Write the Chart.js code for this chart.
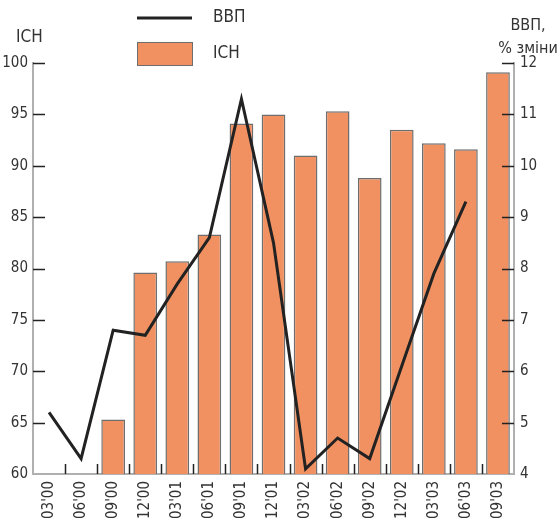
<!DOCTYPE html>
<html>
<head>
<meta charset="utf-8">
<script src="https://cdn.jsdelivr.net/npm/chart.js@4"></script>
<style>
  html, body { margin: 0; padding: 0; background: #fff; }
  #wrap { width: 560px; height: 520px; position: relative; }
</style>
</head>
<body>
<div id="wrap"><canvas id="chart" width="560" height="520"></canvas></div>
<script>
const quarters = ["03'00", "06'00", "09'00", "12'00", "03'01", "06'01", "09'01", "12'01",
                  "03'02", "06'02", "09'02", "12'02", "03'03", "06'03", "09'03"];
// ІСН, left axis
const ichValues = [null, null, 65.3, 79.6, 80.7, 83.3, 94.1, 95.0, 91.0, 95.3, 88.8, 93.5, 92.2, 91.6, 99.1];
// ВВП, % зміни, right axis
const gdpValues = [5.2, 4.3, 6.8, 6.7, 7.7, 8.6, 11.3, 8.5, 4.1, 4.7, 4.3, 6.1, 7.9, 9.3, null];
const leftTicks = [60, 65, 70, 75, 80, 85, 90, 95, 100];
const rightTicks = [4, 5, 6, 7, 8, 9, 10, 11, 12];

const barColor = "#f19162";
const barBorder = "#6e6e6e";
const axisGray = "#b0b0b0";
const textColor = "#333333";
const fontFamily = '"DejaVu Sans Condensed", "DejaVu Sans", sans-serif';

// short tick marks drawn inside the plot, legend and axis titles
const decorPlugin = {
  id: "decor",
  afterDraw(chart) {
    const ctx = chart.ctx;
    const area = chart.chartArea;
    const x = chart.scales.x, yL = chart.scales.y, yR = chart.scales.y1;
    ctx.save();
    ctx.strokeStyle = "#222";
    ctx.lineWidth = 1.5;
    ctx.beginPath();
    leftTicks.forEach(v => {
      const py = Math.round(yL.getPixelForValue(v)) + 0.5;
      if (v === 60) return;
      ctx.moveTo(area.left, py); ctx.lineTo(area.left + 12, py);
    });
    rightTicks.forEach(v => {
      const py = Math.round(yR.getPixelForValue(v)) + 0.5;
      if (v === 4) return;
      ctx.moveTo(area.right - 12, py); ctx.lineTo(area.right, py);
    });
    for (let i = 0; i < quarters.length - 1; i++) {
      const px = Math.round((x.getPixelForValue(i) + x.getPixelForValue(i + 1)) / 2) + 0.5;
      ctx.moveTo(px, area.bottom); ctx.lineTo(px, area.bottom - 10);
    }
    ctx.stroke();

    // legend
    ctx.fillStyle = textColor;
    ctx.font = "17px " + fontFamily;
    ctx.textBaseline = "middle";
    ctx.textAlign = "left";
    ctx.strokeStyle = "#222";
    ctx.lineWidth = 3;
    ctx.beginPath();
    ctx.moveTo(137, 18); ctx.lineTo(192, 18);
    ctx.stroke();
    ctx.fillText("ВВП", 213, 18);
    ctx.fillStyle = barColor;
    ctx.fillRect(137, 42, 55, 23);
    ctx.strokeStyle = barBorder;
    ctx.lineWidth = 1;
    ctx.strokeRect(137.5, 42.5, 55, 23);
    ctx.fillStyle = textColor;
    ctx.fillText("ІСН", 213, 54);

    // axis titles
    ctx.fillText("ІСН", 16, 38);
    ctx.textAlign = "center";
    ctx.font = "16px " + fontFamily;
    ctx.fillText("ВВП,", 528, 26);
    ctx.fillText("% зміни", 528, 49);
    ctx.restore();
  }
};

new Chart(document.getElementById("chart"), {
  data: {
    labels: quarters,
    datasets: [
      {
        type: "line",
        label: "ВВП",
        data: gdpValues,
        yAxisID: "y1",
        borderColor: "#222",
        borderWidth: 3,
        pointRadius: 0,
        tension: 0,
        order: 0,
      },
      {
        type: "bar",
        label: "ІСН",
        data: ichValues,
        yAxisID: "y",
        backgroundColor: barColor,
        borderColor: barBorder,
        borderWidth: 1.5,
        borderSkipped: false,
        barPercentage: 0.74,
        categoryPercentage: 1,
        order: 1,
      },
    ],
  },
  options: {
    responsive: false,
    animation: false,
    devicePixelRatio: 1,
    layout: { padding: { top: 63, left: 0, right: 0, bottom: 0 } },
    plugins: { legend: { display: false }, tooltip: { enabled: false } },
    scales: {
      x: {
        offset: true,
        grid: { display: false, drawTicks: false },
        border: { display: true, color: axisGray, width: 2 },
        ticks: {
          color: textColor,
          font: { family: fontFamily, size: 15 },
          minRotation: 90,
          maxRotation: 90,
          padding: 7,
          autoSkip: false,
        },
        afterFit(scale) { scale.height = 46; },
      },
      y: {
        position: "left",
        min: 60,
        max: 100,
        grid: { display: false, drawTicks: false },
        border: { display: true, color: axisGray, width: 2 },
        ticks: {
          stepSize: 5,
          color: textColor,
          font: { family: fontFamily, size: 15 },
          padding: 5,
        },
        afterFit(scale) { scale.width = 33; },
      },
      y1: {
        position: "right",
        min: 4,
        max: 12,
        grid: { display: false, drawTicks: false },
        border: { display: true, color: axisGray, width: 2 },
        ticks: {
          stepSize: 1,
          color: textColor,
          font: { family: fontFamily, size: 15 },
          padding: 6,
        },
        afterFit(scale) { scale.width = 46; },
      },
    },
  },
  plugins: [decorPlugin],
});
</script>
</body>
</html>
